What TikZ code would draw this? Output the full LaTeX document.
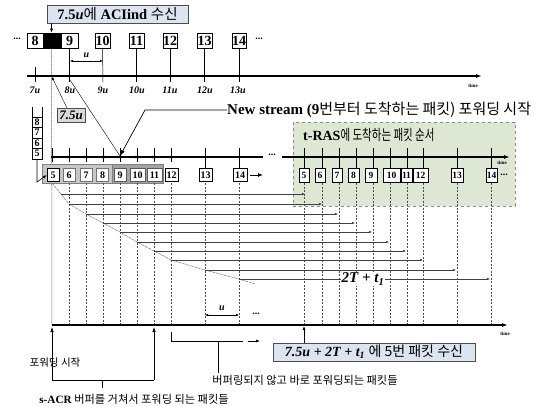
\documentclass[tikz,border=0pt]{standalone}
\usepackage{fontspec}
\setmainfont{Liberation Serif}
\newfontfamily\kr{Noto Sans CJK KR}
\usetikzlibrary{arrows.meta}
\definecolor{bluebox}{RGB}{220,228,240}
\definecolor{greenbox}{RGB}{222,231,211}
\begin{document}
\begin{tikzpicture}[x=1pt,y=-1pt,
  pk/.style={draw=black, line width=0.8pt, fill=white, inner sep=0pt, minimum height=15pt, font=\fontsize{14}{14}\selectfont\bfseries},
  pm/.style={draw=black, line width=0.6pt, fill=white, inner sep=0pt, minimum height=13.5pt, font=\fontsize{10}{10}\selectfont\bfseries},
  pr/.style={draw=black, line width=0.6pt, fill=white, inner sep=0pt, minimum height=14pt, font=\fontsize{9.5}{9.5}\selectfont\bfseries},
  axisline/.style={line width=1.5pt, -{Latex[length=6pt,width=4pt]}},
  axisplain/.style={line width=1.5pt},
  tk/.style={line width=0.5pt},
  vdash/.style={dash pattern=on 2pt off 1.5pt, line width=0.45pt, black!70},
  fwd/.style={line width=0.5pt, black!75, -{Latex[length=3pt,width=2.5pt]}},
  thinarrow/.style={line width=0.5pt, -{Latex[length=4pt,width=3pt]}},
  ulbl/.style={font=\fontsize{10}{10}\selectfont\bfseries\itshape},
  timelbl/.style={font=\fontsize{5}{5}\selectfont\bfseries, inner sep=0pt},
  dots/.style={font=\fontsize{10}{10}\selectfont\bfseries, inner sep=0pt},
  krlbl/.style={font=\fontsize{11.2}{11.2}\selectfont\kr},
  infobox/.style={draw=black!70, line width=0.8pt, fill=bluebox, inner sep=0pt},
  stk/.style={draw, line width=0.5pt, fill=white, minimum width=10pt, minimum height=10.5pt, inner sep=0pt, font=\fontsize{10}{10}\selectfont\bfseries},
]
\useasboundingbox (0,0) rectangle (541,407);

% ---------- top label ----------
\node[infobox, minimum width=141pt, minimum height=18pt, font=\fontsize{14.5}{14.5}\selectfont] (acibox) at (117.5,14)
  {\textbf{7.5\textit{u}}{\kr 에} \textbf{ACIind} {\kr 수신}};

% ---------- top row of packets ----------
\node[dots] (tdl) at (17,39) {...};
\node[pk, minimum width=16pt] (t8) at (35,40.5) {8};
\node[pk, minimum width=17pt, fill=black] (tblk) at (51.5,40.5) {};
\node[pk, minimum width=17pt] (t9) at (69.5,40.5) {9};
\node[pk, minimum width=15pt] (t10) at (102.5,40.5) {10};
\node[pk, minimum width=15pt] (t11) at (136.5,40.5) {11};
\node[pk, minimum width=14pt] (t12) at (170,40.5) {12};
\node[pk, minimum width=15pt] (t13) at (204.5,40.5) {13};
\node[pk, minimum width=14pt] (t14) at (239,40.5) {14};
\node[dots] (tdr) at (259,39) {...};
\draw[thinarrow] (acibox.south -| tblk) -- (tblk.north);

% top axis
\coordinate (ax1s) at (27,76);
\coordinate (ax1e) at (482,76);
\draw[axisline] (ax1s) -- (ax1e);
\node[timelbl] (time1) at (473,86) {time};
\draw[tk] (35,67) -- (35,82);
\foreach \n/\x in {9/69.5,10/103,11/136.5,12/170,13/204.5,14/239}{
  \draw[tk] (t\n.south) -- (\x,82);
}
\foreach \t/\x in {7/35,8/70,9/103,10/137,11/170,12/205,13/238}{
  \node[ulbl] (lab\t) at (\x,90) {\t u};
}
% u dimension
\coordinate (ua) at (70,61);
\coordinate (ub) at (103,61);
\draw[line width=0.5pt, {Latex[length=3pt,width=2.5pt]}-{Latex[length=3pt,width=2.5pt]}] (ua) -- (ub);
\node[ulbl] (ulab) at (86.5,55) {u};

% dotted line under black box
\draw[dash pattern=on 1pt off 1pt, line width=0.5pt] (tblk.south) -- (52,325);

% 7.5u box
\node[draw=black!70, line width=0.7pt, fill=black!15, minimum width=28pt, minimum height=14pt, inner sep=0pt,
  font=\fontsize{13}{13}\selectfont\bfseries\itshape] (tbox) at (71,115) {7.5u};
\coordinate (a75) at (52,77);
\draw[line width=0.4pt, -{Latex[length=3pt,width=2.5pt]}] (67,108) -- (a75);
\coordinate (nsp) at (120,156);
\draw[line width=0.4pt] (70,80) -- (nsp);

% New stream label
\node[anchor=west, inner sep=0pt, font=\fontsize{15}{15}\selectfont] (nslbl) at (227,110)
  {\textbf{New stream (9}{\kr 번부터 도착하는 패킷) 포워딩 시작}};
\draw[line width=0.7pt, -{Latex[length=6pt,width=4pt]}] (nslbl.west) -- (145,110) -- (nsp);

% stack buffer
\draw[line width=0.5pt] (32,107) -- (32,117) (42,107) -- (42,117);
\node[stk] (s8) at (37,122) {8};
\node[stk] (s7) at (37,132.5) {7};
\node[stk] (s6) at (37,143) {6};
\node[stk] (s5) at (37,153.5) {5};

% green region
\node[draw=black!45, dashed, line width=0.5pt, fill=greenbox, minimum width=222pt, minimum height=84pt, inner sep=0pt] (green) at (404,164) {};
\node[anchor=west, inner sep=0pt, font=\fontsize{14}{14}\selectfont] (traslbl) at (303,135)
  {\textbf{t-RAS}\scalebox{0.75}[1.05]{\kr 에 도착하는 패킷 순서}};

% middle axis
\draw[axisplain] (52,157) -- (263,157);
\node[dots] (mdots) at (272,155) {...};
\draw[axisline] (282,157) -- (510,157);
\node[timelbl] (time2) at (502,163) {time};
\foreach \x in {52,69,86,103,120,137,154,171}{
  \draw[tk] (\x,148) -- (\x,162);
  \draw[line width=0.4pt] (\x-1.3,155.7) -- (\x+1.3,158.3) (\x-1.3,158.3) -- (\x+1.3,155.7);
}
\foreach \x in {205,239}{ \draw[tk] (\x,148) -- (\x,168); }
\foreach \x in {304,322,339,356,373,390,407,423,457,491}{ \draw[tk] (\x,148) -- (\x,168); }

% gray regions in middle row
\node[draw=black!50, line width=0.5pt, fill=black!22, minimum width=121pt, minimum height=19pt, inner sep=0pt] (grayA) at (102.5,173.5) {};
\node[draw=black!50, line width=0.5pt, fill=black!36, minimum width=51pt, minimum height=19pt, inner sep=0pt] (grayB) at (137.5,173.5) {};

% middle row packets
\node[pm, minimum width=12pt] (m5) at (53,175) {5};
\node[pm, minimum width=12pt, draw=black!55] (m6) at (69,175) {6};
\node[pm, minimum width=12pt, draw=black!55] (m7) at (86,175) {7};
\node[pm, minimum width=11.5pt, draw=black!55] (m8) at (102.5,175) {8};
\node[pm, minimum width=12pt, draw=black!65] (m9) at (120,175) {9};
\node[pm, minimum width=15pt, draw=black!65] (m10) at (137.5,175) {10};
\node[pm, minimum width=15pt, draw=black!65] (m11) at (154.5,175) {11};
\node[pm, minimum width=13pt] (m12) at (171.5,175) {12};
\node[pm, minimum width=13pt] (m13) at (205.5,175) {13};
\node[pm, minimum width=14pt] (m14) at (240,175) {14};
\draw[line width=0.9pt, -{Latex[length=5pt,width=4pt]}] (250,175) -- (263,175);
\draw[line width=0.6pt, -{Latex[length=4pt,width=3pt]}] (s5.south) -- (37,182) -- (m5.west);

% t-RAS packets
\node[pr, minimum width=10pt] (r5) at (304,175) {5};
\node[pr, minimum width=10pt] (r6) at (320,175) {6};
\node[pr, minimum width=10pt] (r7) at (337,175) {7};
\node[pr, minimum width=11pt] (r8) at (353.5,175) {8};
\node[pr, minimum width=12pt] (r9) at (371,175) {9};
\node[pr, minimum width=17pt] (r10) at (391.5,175) {10};
\node[pr, minimum width=11pt] (r11) at (406.5,175) {11};
\node[pr, minimum width=15pt] (r12) at (420.5,175) {12};
\node[pr, minimum width=12pt] (r13) at (457,175) {13};
\node[pr, minimum width=11pt] (r14) at (491.5,175) {14};
\node[dots] (rdots) at (504,175) {...};

% dashed vertical lines
\foreach \x in {69,86,103,120,137,154,171,205,239}{ \draw[vdash] (\x,183) -- (\x,325); }
\foreach \x in {304,322,339,356,373,390,407,423,457,491}{ \draw[vdash] (\x,183) -- (\x,325); }

% diagonal processing curve
\draw[line width=0.5pt, black!55, dash pattern=on 3pt off 0.8pt] (52,183) -- (61,194) -- (69,204) -- (86,214) -- (103,223) -- (120,232) -- (137,242) -- (154,251) -- (171,260) -- (205,270) -- (239,279) -- (255,284);

% forwarding arrows
\foreach \xs/\y/\xe in {61/194/305, 69/204/322, 86/214/338, 103/223/355, 120/232/372, 137/242/389, 154/251/406, 171/260/423, 205/270/456, 239/279/490}{
  \draw[fwd] (\xs,\y) -- (\xe,\y);
}
\node[fill=white, inner sep=1pt, font=\fontsize{15}{15}\selectfont\bfseries\itshape] (twoT) at (363,279) {2T + t\textsubscript{1}};

% bottom u dimension
\draw[line width=0.5pt, {Latex[length=3pt,width=2.5pt]}-{Latex[length=3pt,width=2.5pt]}] (205,315) -- (239,315);
\node[ulbl] (ulab2) at (222,308) {u};
\node[dots] (bdots) at (256,314) {...};

% bottom axis
\draw[axisline] (52,325) -- (508,325);
\node[timelbl] (time3) at (505,334) {time};

% bracket for s-ACR buffered packets
\coordinate (bl) at (52,380);
\coordinate (br) at (154,380);
\draw[line width=0.6pt, -{Latex[length=5pt,width=3.5pt]}] (bl) -- (52,327);
\draw[line width=0.6pt, -{Latex[length=5pt,width=3.5pt]}] (br) -- (154,327);
\draw[line width=0.6pt] (bl) -- (br);
\draw[line width=0.6pt] (102,380) -- (102,388);
\node[krlbl, font=\fontsize{10.5}{10.5}\selectfont\kr] (fwdstart) at (55,363) {포워딩 시작};
\node[krlbl] (sacr) at (134,399) {\textbf{\rmfamily s-ACR} 버퍼를 거쳐서 포워딩 되는 패킷들};

% bracket for direct packets
\draw[line width=0.6pt] (171,332) -- (171,341) -- (243,341);
\draw[line width=0.6pt, -{Latex[length=4pt,width=3pt]}] (248,341) -- (260,341);
\draw[line width=0.6pt] (218,341) -- (218,373);
\node[krlbl] (direct) at (305,380) {버퍼링되지 않고 바로 포워딩되는 패킷들};

% reception box
\node[infobox, minimum width=202pt, minimum height=18pt, font=\fontsize{14}{14}\selectfont] (rxbox) at (374,352)
  {\textbf{\textit{7.5u + 2T + t\textsubscript{1}}} {\kr 에 5번 패킷 수신}};
\draw[line width=0.6pt, -{Latex[length=4pt,width=3pt]}] (rxbox.north -| 304,0) -- (304,326);
\end{tikzpicture}
\end{document}
